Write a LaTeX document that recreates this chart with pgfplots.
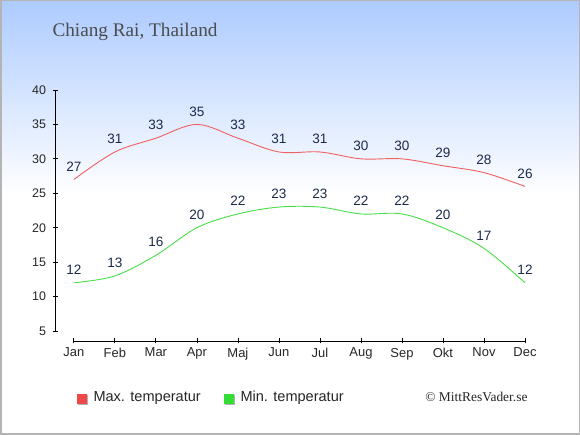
\documentclass[border=0pt]{standalone}
\usepackage{pgfplots}
\pgfplotsset{compat=1.18}
\usepackage{fontspec}
\setmainfont{Liberation Sans}
\newfontfamily\titlefont{Liberation Serif}
\definecolor{bgtop}{HTML}{ADCBFF}
\definecolor{maxc}{HTML}{F06060}
\definecolor{minc}{HTML}{48E048}
\definecolor{maxl}{HTML}{F04848}
\definecolor{minl}{HTML}{33DD33}
\definecolor{lab}{HTML}{1C2A4A}
\definecolor{frame}{HTML}{B4B4B4}
\begin{document}
\begin{tikzpicture}[x=1bp,y=1bp]
\fill[white] (0,0) rectangle (580,435);
\shade[top color=bgtop, bottom color=white] (0,240) rectangle (580,435);
\draw[frame, line width=1.5bp] (0.75,0.75) rectangle (579.25,434.25);
\node[anchor=west, text=black!70, font=\titlefont\fontsize{19.3}{21}\selectfont] at (49,403) {Chiang Rai, Thailand};
\begin{axis}[
  at={(55bp,94bp)}, anchor=south west,
  scale only axis, width=470bp, height=251bp,
  xmin=-0.46, xmax=11, ymin=3.55, ymax=40,
  axis x line*=bottom, axis y line*=left,
  x axis line style={draw=none}, y axis line style={draw=none},
  clip=false,
  /pgf/number format/assume math mode=true,
  xtick={0,...,11},
  xticklabels={Jan,Feb,Mar,Apr,Maj,Jun,Jul,Aug,Sep,Okt,Nov,Dec},
  ytick={5,10,...,40},
  tick align=center, major tick length=5bp,
  tick style={black, line width=0.8bp},
  yticklabel style={xshift=-3bp, font=\fontsize{12.5}{14}\selectfont, text=black!85},
  xticklabel style={yshift=-1bp, font=\fontsize{13}{14}\selectfont, text=black!85},
  every node near coord/.append style={anchor=center, yshift=13bp, text=lab, font=\fontsize{13.6}{15}\selectfont},
]
\draw[black, line width=0.8bp] (axis cs:-0.46,5) -- (axis cs:-0.46,40);
\draw[black, line width=0.8bp] (axis cs:0,3.55) -- (axis cs:11,3.55);
\addplot[maxc, line width=0.9bp, smooth, tension=0.55, nodes near coords] coordinates {
(0,27) (1,31) (2,33) (3,35) (4,33) (5,31) (6,31) (7,30) (8,30) (9,29) (10,28) (11,26)};
\addplot[minc, line width=0.9bp, smooth, tension=0.55, nodes near coords] coordinates {
(0,12) (1,13) (2,16) (3,20) (4,22) (5,23) (6,23) (7,22) (8,22) (9,20) (10,17) (11,12)};
\end{axis}
\fill[black!30] (78,30) rectangle (88,40);
\fill[maxl] (77,31) rectangle (87,41);
\node[anchor=west, font=\fontsize{14.6}{16}\selectfont, text=black!85] at (90,37) {Max. temperatur};
\fill[black!30] (225,30) rectangle (235,40);
\fill[minl] (224,31) rectangle (234,41);
\node[anchor=west, font=\fontsize{14.6}{16}\selectfont, text=black!85] at (237,37) {Min. temperatur};
\node[anchor=east, font=\titlefont\fontsize{13.5}{15}\selectfont, text=black!85] at (531,38) {© MittResVader.se};
\end{tikzpicture}
\end{document}
